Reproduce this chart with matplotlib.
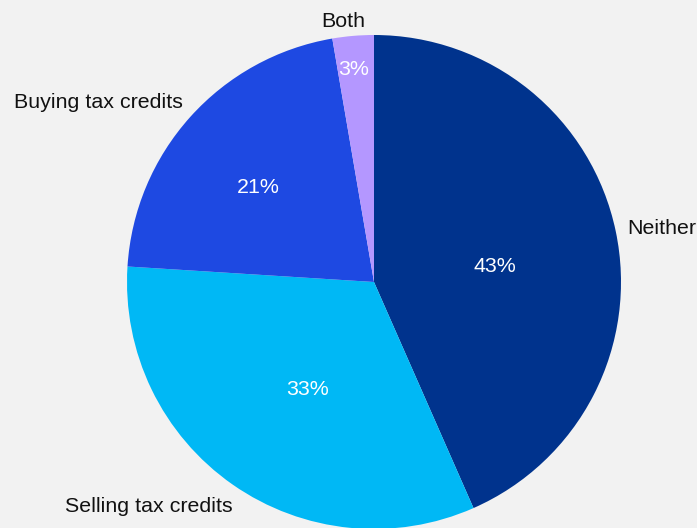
import matplotlib
matplotlib.use("Agg")
import matplotlib.pyplot as plt
import numpy as np

plt.rcParams['font.family'] = ['Liberation Sans', 'DejaVu Sans']

labels = ['Neither', 'Selling tax credits', 'Buying tax credits', 'Both']
shares = [43.4, 32.6, 21.3, 2.7]
colors = ['#00338D', '#00B8F5', '#1E49E2', '#B497FF']

# label placement around each wedge: (radius fraction, angle nudge in degrees)
name_pos = [(1.046, 0.0), (1.072, 2.7), (1.060, -1.2), (1.064, 1.9)]
name_ha = ['left', 'right', 'right', 'center']
pct_pos = [(0.492, -4.6), (0.511, 3.3), (0.603, 2.8), (0.864, 0.5)]

fig = plt.figure(figsize=(6.97, 5.28), dpi=100, facecolor='#f2f2f2')
ax = fig.add_axes([0, 0, 1, 1])
ax.set_facecolor('#f2f2f2')

wedges, texts, autotexts = ax.pie(
    shares, labels=labels, colors=colors, startangle=90, counterclock=False,
    autopct='%1.0f%%', radius=1.0,
    wedgeprops=dict(linewidth=0),
    textprops=dict(fontsize=15.4, color='#111111'))


def polar(w, r, nudge):
    mid = np.deg2rad((w.theta1 + w.theta2) / 2 + nudge)
    return r * np.cos(mid), r * np.sin(mid)


for w, t, (r, d), ha in zip(wedges, texts, name_pos, name_ha):
    t.set_position(polar(w, r, d))
    t.set_ha(ha)
    t.set_va('center')

for w, t, (r, d) in zip(wedges, autotexts, pct_pos):
    t.set_position(polar(w, r, d))
    t.set_color('white')
    t.set_fontsize(15.4)
    t.set_va('center')

# pie centre at (374, 282) px from top-left, radius 247 px
R = 247.0
ax.set_xlim(-374 / R, (697 - 374) / R)
ax.set_ylim(-(528 - 282) / R, 282 / R)
ax.set_aspect('equal')
ax.axis('off')

fig.savefig('out.png', dpi=100, facecolor=fig.get_facecolor())
